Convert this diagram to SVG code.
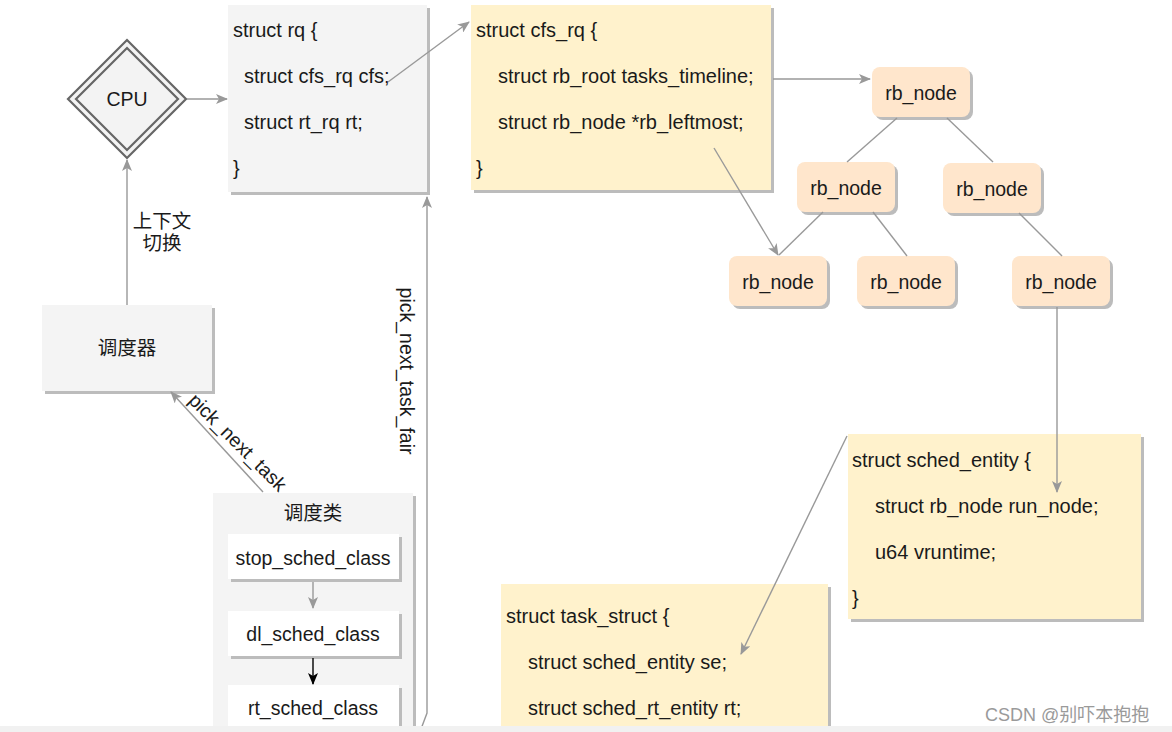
<svg xmlns="http://www.w3.org/2000/svg" width="1172" height="732" viewBox="0 0 1172 732">
<defs>
<marker id="ah" viewBox="0 0 12 10" refX="11" refY="5" markerWidth="12" markerHeight="10" markerUnits="userSpaceOnUse" orient="auto">
<path d="M0,0 L12,5 L0,10 L3,5 Z" fill="#999"/>
</marker>
<marker id="ahk" viewBox="0 0 12 10" refX="11" refY="5" markerWidth="12" markerHeight="10" markerUnits="userSpaceOnUse" orient="auto">
<path d="M0,0 L12,5 L0,10 L3,5 Z" fill="#000"/>
</marker>
<style>
text{font-family:"Liberation Sans",Arial,"Noto Sans CJK SC",sans-serif;font-size:19.5px;fill:#1a1a1a}
.code{font-size:20px}
.c{text-anchor:middle}
.sh{fill:#bcbcbc}
.g{fill:#f4f4f4}
.y{fill:#fff2cc}
.o{fill:#ffe6cc}
.w{fill:#ffffff}
.ln{stroke:#999;stroke-width:1.4;fill:none}
.cn{font-family:"Liberation Sans","Noto Sans CJK SC",sans-serif}
</style>
</defs>
<rect width="1172" height="732" fill="#ffffff"/>

<g id="cpu">
<path d="M127,40 L186,99 L127,158 L68,99 Z" fill="#f3f3f3" stroke="#666" stroke-width="2.2"/>
<path d="M127,48 L178,99 L127,150 L76,99 Z" fill="#f3f3f3" stroke="#666" stroke-width="2.2"/>
<text x="127" y="106" class="c">CPU</text>
</g>

<g id="rq">
<rect x="231" y="8" width="199" height="187" class="sh"/>
<rect x="228" y="5" width="199" height="187" class="g"/>
<text x="233" y="37" class="code">struct rq {</text>
<text x="244" y="83" class="code">struct cfs_rq cfs;</text>
<text x="244" y="129" class="code">struct rt_rq rt;</text>
<text x="233" y="175" class="code">}</text>
</g>

<g id="cfs_rq">
<rect x="474" y="8" width="300" height="185" class="sh"/>
<rect x="471" y="5" width="300" height="185" class="y"/>
<text x="476" y="37" class="code">struct cfs_rq {</text>
<text x="498" y="83" class="code">struct rb_root tasks_timeline;</text>
<text x="498" y="129" class="code">struct rb_node *rb_leftmost;</text>
<text x="476" y="175" class="code">}</text>
</g>

<g id="rb1"><rect x="875" y="70" width="98" height="50" rx="8" class="sh"/><rect x="872" y="67" width="98" height="50" rx="8" class="o"/><text x="921" y="100" class="c">rb_node</text></g>
<g id="rb2"><rect x="800" y="165" width="98" height="50" rx="8" class="sh"/><rect x="797" y="162" width="98" height="50" rx="8" class="o"/><text x="846" y="195" class="c">rb_node</text></g>
<g id="rb3"><rect x="946" y="166" width="98" height="50" rx="8" class="sh"/><rect x="943" y="163" width="98" height="50" rx="8" class="o"/><text x="992" y="196" class="c">rb_node</text></g>
<g id="rb4"><rect x="732" y="259" width="98" height="50" rx="8" class="sh"/><rect x="729" y="256" width="98" height="50" rx="8" class="o"/><text x="778" y="289" class="c">rb_node</text></g>
<g id="rb5"><rect x="860" y="259" width="98" height="50" rx="8" class="sh"/><rect x="857" y="256" width="98" height="50" rx="8" class="o"/><text x="906" y="289" class="c">rb_node</text></g>
<g id="rb6"><rect x="1015" y="259" width="98" height="50" rx="8" class="sh"/><rect x="1012" y="256" width="98" height="50" rx="8" class="o"/><text x="1061" y="289" class="c">rb_node</text></g>

<g id="sched_entity">
<rect x="851" y="437" width="293" height="185" class="sh"/>
<rect x="848" y="434" width="293" height="185" class="y"/>
<text x="852" y="467" class="code">struct sched_entity {</text>
<text x="875" y="513" class="code">struct rb_node run_node;</text>
<text x="875" y="559" class="code">u64 vruntime;</text>
<text x="852" y="605" class="code">}</text>
</g>

<g id="task_struct">
<rect x="504" y="587" width="327" height="150" class="sh"/>
<rect x="501" y="584" width="327" height="150" class="y"/>
<text x="506" y="623" class="code">struct task_struct {</text>
<text x="528" y="669" class="code">struct sched_entity se;</text>
<text x="528" y="715" class="code">struct sched_rt_entity rt;</text>
</g>

<g id="scheduler">
<rect x="45" y="308" width="170" height="86" class="sh"/>
<rect x="42" y="305" width="170" height="86" class="g"/>
<text x="127" y="355" class="c cn">调度器</text>
</g>

<g id="sched_classes">
<rect x="216" y="496" width="200" height="240" class="sh"/>
<rect x="213" y="493" width="200" height="240" class="g"/>
<text x="313" y="520" class="c cn">调度类</text>
</g>
<g id="stop_sched_class">
<rect x="231" y="537" width="171" height="45" class="sh"/>
<rect x="228" y="534" width="171" height="45" class="w"/>
<text x="313" y="565" class="c">stop_sched_class</text>
</g>
<g id="dl_sched_class">
<rect x="231" y="614" width="171" height="45" class="sh"/>
<rect x="228" y="611" width="171" height="45" class="w"/>
<text x="313" y="641" class="c">dl_sched_class</text>
</g>
<g id="rt_sched_class">
<rect x="231" y="688" width="171" height="50" class="sh"/>
<rect x="228" y="685" width="171" height="50" class="w"/>
<text x="313" y="715" class="c">rt_sched_class</text>
</g>

<g id="connectors">
<line x1="187" y1="99" x2="227" y2="99" class="ln" marker-end="url(#ah)"/>
<line x1="388" y1="82" x2="469" y2="22" class="ln" marker-end="url(#ah)"/>
<line x1="773" y1="79" x2="870" y2="79" class="ln" marker-end="url(#ah)"/>
<line x1="897" y1="118" x2="847" y2="162" class="ln"/>
<line x1="947" y1="118" x2="993" y2="162" class="ln"/>
<line x1="823" y1="212" x2="779" y2="255" class="ln"/>
<line x1="873" y1="212" x2="907" y2="256" class="ln"/>
<line x1="1019" y1="213" x2="1062" y2="256" class="ln"/>
<line x1="714" y1="148" x2="778" y2="255" class="ln" marker-end="url(#ah)"/>
<line x1="1057" y1="307" x2="1057" y2="492" class="ln" marker-end="url(#ah)"/>
<line x1="847" y1="436" x2="741" y2="654" class="ln" marker-end="url(#ah)"/>
<line x1="127" y1="305" x2="127" y2="160" class="ln" marker-end="url(#ah)"/>
<line x1="263" y1="492" x2="171" y2="392" class="ln" marker-end="url(#ah)"/>
<path d="M421,729 L427,713 L427,197" class="ln" marker-end="url(#ah)"/>
<line x1="313" y1="582" x2="313" y2="608" class="ln" marker-end="url(#ah)"/>
<line x1="313" y1="658" x2="313" y2="684" stroke="#000" stroke-width="1.4" marker-end="url(#ahk)"/>
<text x="162" y="228" class="c cn">上下文</text>
<text x="162" y="250" class="c cn">切换</text>
<text x="0" y="0" class="c" transform="translate(233,447) rotate(45)">pick_next_task</text>
<text x="0" y="0" class="c" transform="translate(400,371) rotate(90)">pick_next_task_fair</text>
</g>

<rect x="0" y="726" width="1172" height="6" fill="#f1f1f1"/>
<text x="985" y="721" class="cn" style="font-size:18px;fill:#9a9a9a">CSDN @别吓本抱抱</text>
</svg>
